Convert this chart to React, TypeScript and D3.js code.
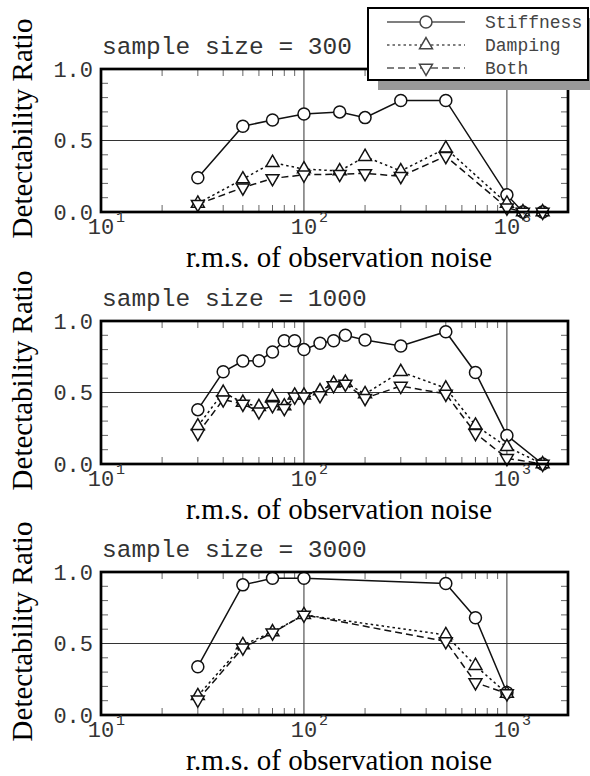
import React from 'react';
import * as d3 from 'd3';

// noise levels (x) and detectability ratios per panel
const titles = ['sample size = 300', 'sample size = 1000', 'sample size = 3000'];
const seriesNames = ['Stiffness', 'Damping', 'Both'];

const noise300 = [30, 50, 70, 100, 150, 200, 300, 500, 1000, 1200, 1500];
const stiff300 = [0.24, 0.6, 0.643, 0.685, 0.7, 0.66, 0.78, 0.78, 0.12, 0, 0];
const damp300 = [0.06, 0.23, 0.345, 0.3, 0.287, 0.387, 0.287, 0.445, 0.06, 0, 0];
const both300 = [0.055, 0.17, 0.235, 0.26, 0.265, 0.27, 0.25, 0.39, 0.03, 0, 0];

const noise1000 = [30, 40, 50, 60, 70, 80, 90, 100, 120, 140, 160, 200, 300, 500, 700, 1000, 1500];
const stiff1000 = [0.38, 0.645, 0.72, 0.722, 0.783, 0.862, 0.862, 0.8, 0.844, 0.862, 0.9, 0.867, 0.825, 0.925, 0.64, 0.2, 0];
const damp1000 = [0.265, 0.5, 0.43, 0.4, 0.47, 0.405, 0.48, 0.48, 0.51, 0.564, 0.57, 0.49, 0.645, 0.53, 0.27, 0.12, 0];
const both1000 = [0.215, 0.45, 0.42, 0.366, 0.41, 0.39, 0.47, 0.47, 0.48, 0.55, 0.56, 0.46, 0.545, 0.49, 0.215, 0.04, 0];

const noise3000 = [30, 50, 70, 100, 500, 700, 1000];
const stiff3000 = [0.338, 0.91, 0.956, 0.956, 0.92, 0.68, 0.157];
const damp3000 = [0.134, 0.49, 0.58, 0.7, 0.56, 0.345, 0.15];
const both3000 = [0.106, 0.47, 0.575, 0.7, 0.515, 0.227, 0.15];

const panels = [
  { title: titles[0], x: noise300, ys: [stiff300, damp300, both300] },
  { title: titles[1], x: noise1000, ys: [stiff1000, damp1000, both1000] },
  { title: titles[2], x: noise3000, ys: [stiff3000, damp3000, both3000] },
];

const xMajor = [10, 100, 1000];
const xMajorExp = ['1', '2', '3'];
const yTickLabels = ['0.0', '0.5', '1.0'];

const W = 590;
const H = 776;
const left = 101;
const right = 568;
const ph = 143;
const tops = [69, 321, 572];

const mono = '"Liberation Mono", monospace';
const serif = '"Liberation Serif", serif';
const dashes = [null, '2.5,3', '7,4'];

const tri = d3.symbol().type(d3.symbolTriangle).size(72)();

const Marker = ({ kind, x, y, color }) => {
  if (kind === 0) return <circle cx={x} cy={y} r={6} fill="#fff" stroke={color} strokeWidth={1.5} />;
  return (
    <path
      d={tri}
      transform={`translate(${x},${y}) rotate(${kind === 2 ? 180 : 0})`}
      fill="#fff"
      stroke={color}
      strokeWidth={1.5}
    />
  );
};

const Panel = ({ p, top }) => {
  const x = d3.scaleLog().domain([10, 2000]).range([left, right]);
  const y = d3.scaleLinear().domain([0, 1]).range([top + ph, top]);
  const minor = [];
  for (let d = 10; d < 2000; d *= 10) for (let k = 2; k <= 9; k++) if (d * k < 2000) minor.push(d * k);
  const yMinor = d3.range(1, 10).map(i => i / 10);
  const line = d3.line().x(d => x(d[0])).y(d => y(d[1]));
  const bottom = top + ph;

  return (
    <g>
      {/* ticks inside frame */}
      {minor.map(v => (
        <g key={'mx' + v} stroke="#666" strokeWidth={1}>
          <line x1={x(v)} x2={x(v)} y1={bottom} y2={bottom - 7} />
          <line x1={x(v)} x2={x(v)} y1={top} y2={top + 7} />
        </g>
      ))}
      {yMinor.map(v => (
        <g key={'my' + v} stroke="#666" strokeWidth={1}>
          <line x1={left} x2={left + 7} y1={y(v)} y2={y(v)} />
          <line x1={right} x2={right - 7} y1={y(v)} y2={y(v)} />
        </g>
      ))}
      {/* grid */}
      <line x1={x(100)} x2={x(100)} y1={top} y2={bottom} stroke="#333" strokeWidth={1} />
      <line x1={x(1000)} x2={x(1000)} y1={top} y2={bottom} stroke="#333" strokeWidth={1} />
      <line x1={left} x2={right} y1={y(0.5)} y2={y(0.5)} stroke="#333" strokeWidth={1} />

      {/* series */}
      {p.ys.map((vals, si) => (
        <path
          key={'l' + si}
          d={line(p.x.map((v, i) => [v, vals[i]]))}
          fill="none"
          stroke="#111"
          strokeWidth={1.5}
          strokeDasharray={dashes[si] || undefined}
        />
      ))}
      {p.ys.map((vals, si) =>
        p.x.map((v, i) => <Marker key={'m' + si + '-' + i} kind={si} x={x(v)} y={y(vals[i])} color="#111" />)
      )}

      <rect x={left} y={top} width={right - left} height={ph} fill="none" stroke="#000" strokeWidth={2.7} />

      {/* y tick labels */}
      {yTickLabels.map(t => (
        <text key={t} x={left - 8} y={y(+t)} dy="0.35em" textAnchor="end" fontFamily={mono} fontSize={22} fill="#333">
          {t}
        </text>
      ))}
      {/* x tick labels */}
      {xMajor.map((v, i) => (
        <g key={'xl' + v} fill="#333" fontFamily={mono}>
          <text x={x(v)} y={bottom + 22} textAnchor="middle" fontSize={22}>10</text>
          <text x={x(v) + 15} y={bottom + 10} fontSize={15}>{xMajorExp[i]}</text>
        </g>
      ))}

      <text x={102} y={top - 15} fontFamily={mono} fontSize={24.5} fill="#333">{p.title}</text>
      <text x={339} y={bottom + 55} textAnchor="middle" fontFamily={serif} fontSize={29} fill="#000">
        r.m.s. of observation noise
      </text>
      <text
        transform={`translate(32,${top + ph / 2 - 12}) rotate(-90)`}
        textAnchor="middle"
        fontFamily={serif}
        fontSize={29}
        fill="#000"
      >
        Detectability Ratio
      </text>
    </g>
  );
};

const Legend = () => {
  const rows = [22, 45, 68];
  return (
    <g>
      <rect x={378} y={18} width={220} height={72} fill="#999" />
      <rect x={368} y={8} width={220} height={72} fill="#fff" stroke="#000" strokeWidth={2} />
      {seriesNames.map((n, i) => (
        <g key={n}>
          <line
            x1={387}
            x2={465}
            y1={rows[i]}
            y2={rows[i]}
            stroke="#555"
            strokeWidth={1.5}
            strokeDasharray={dashes[i] || undefined}
          />
          <Marker kind={i} x={426} y={rows[i]} color="#444" />
          <text x={485} y={rows[i]} dy="0.35em" fontFamily={mono} fontSize={18} fill="#444">
            {n}
          </text>
        </g>
      ))}
    </g>
  );
};

export default function App() {
  return (
    <svg width={W} height={H} style={{ position: 'absolute', left: 0, top: 0, background: '#fff' }}>
      <rect width={W} height={H} fill="#fff" />
      {panels.map((p, i) => (
        <Panel key={i} p={p} top={tops[i]} />
      ))}
      <Legend />
    </svg>
  );
}
